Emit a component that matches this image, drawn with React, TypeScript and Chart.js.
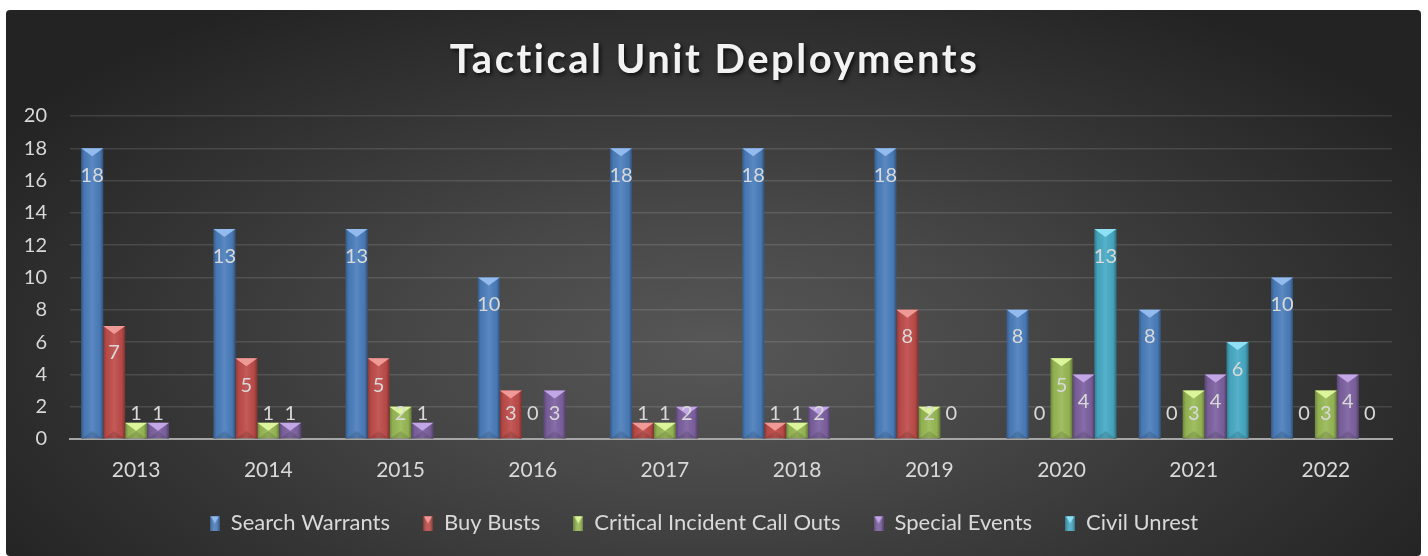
import React, { useEffect, useRef } from "react";
import { Chart, registerables } from "chart.js";

Chart.register(...registerables);

const titleText = "Tactical Unit Deployments";
const years = ["2013", "2014", "2015", "2016", "2017", "2018", "2019", "2020", "2021", "2022"];
const seriesNames = ["Search Warrants", "Buy Busts", "Critical Incident Call Outs", "Special Events", "Civil Unrest"];
const searchWarrants = [18, 13, 13, 10, 18, 18, 18, 8, 8, 10];
const buyBusts = [7, 5, 5, 3, 1, 1, 8, 0, 0, 0];
const criticalIncidents = [1, 1, 2, 0, 1, 1, 2, 5, 3, 3];
const specialEvents = [1, 1, 1, 3, 2, 2, 0, 4, 4, 4];
const civilUnrest = [null, null, null, null, null, null, null, 13, 6, 0];
const yTicks = [0, 2, 4, 6, 8, 10, 12, 14, 16, 18, 20];

const seriesColors = ["#4C7FBD", "#BF4D4A", "#99BA56", "#7E62A1", "#48ABC6"];
const seriesLight = ["#93BBEE", "#F09A98", "#DDF59A", "#C3A6E6", "#8FE0F4"];

const FONT = "Lato, 'Open Sans', sans-serif";

function makeMarker(color: string, light: string): HTMLCanvasElement {
  const c = document.createElement("canvas");
  c.width = 10;
  c.height = 15;
  const g = c.getContext("2d")!;
  g.fillStyle = color;
  g.fillRect(0, 0, 10, 15);
  const sh = g.createLinearGradient(0, 0, 10, 0);
  sh.addColorStop(0, "rgba(0,0,0,0.3)");
  sh.addColorStop(0.5, "rgba(255,255,255,0.08)");
  sh.addColorStop(1, "rgba(0,0,0,0.35)");
  g.fillStyle = sh;
  g.fillRect(0, 0, 10, 15);
  g.beginPath();
  g.moveTo(1, 1);
  g.lineTo(9, 1);
  g.lineTo(5, 8);
  g.closePath();
  g.fillStyle = light;
  g.fill();
  return c;
}

const decorPlugin = {
  id: "decor",
  afterDatasetsDraw(chart: any) {
    const ctx = chart.ctx;
    const yScale = chart.scales.y;
    const basePx = yScale.getPixelForValue(0);
    chart.data.datasets.forEach((ds: any, di: number) => {
      const meta = chart.getDatasetMeta(di);
      meta.data.forEach((bar: any, i: number) => {
        const v = ds.data[i];
        if (v === null || v === undefined) return;
        const { x, y, width } = bar.getProps(["x", "y", "width"], true);
        const left = x - width / 2;
        const right = x + width / 2;
        const h = basePx - y;
        ctx.save();
        if (h > 0.5) {
          const g = ctx.createLinearGradient(left, 0, right, 0);
          g.addColorStop(0, "rgba(0,0,0,0.28)");
          g.addColorStop(0.15, "rgba(0,0,0,0.05)");
          g.addColorStop(0.5, "rgba(255,255,255,0.08)");
          g.addColorStop(0.85, "rgba(0,0,0,0.05)");
          g.addColorStop(1, "rgba(0,0,0,0.35)");
          ctx.fillStyle = g;
          ctx.fillRect(left, y, width, h);
          const th = Math.min(8, h);
          ctx.beginPath();
          ctx.moveTo(left, y);
          ctx.lineTo(right, y);
          ctx.lineTo(x, y + th);
          ctx.closePath();
          ctx.fillStyle = seriesLight[di];
          ctx.fill();
          ctx.beginPath();
          ctx.moveTo(left, basePx);
          ctx.lineTo(right, basePx);
          ctx.lineTo(x, basePx - Math.min(8, h));
          ctx.closePath();
          ctx.fillStyle = "rgba(0,0,0,0.12)";
          ctx.fill();
        }
        const ly = Math.min(y + 27, basePx - 25);
        ctx.font = `20px ${FONT}`;
        ctx.fillStyle = "#D9D9D9";
        ctx.textAlign = "center";
        ctx.textBaseline = "middle";
        ctx.fillText(String(v), x, ly);
        ctx.restore();
      });
    });
  },
  afterDraw(chart: any) {
    const ctx = chart.ctx;
    ctx.save();
    ctx.font = `bold 40px ${FONT}`;
    (ctx as any).letterSpacing = "2.5px";
    ctx.textAlign = "center";
    ctx.textBaseline = "middle";
    ctx.shadowColor = "rgba(0,0,0,0.75)";
    ctx.shadowBlur = 4;
    ctx.shadowOffsetX = 2;
    ctx.shadowOffsetY = 2;
    ctx.fillStyle = "#F2F2F2";
    ctx.fillText(titleText, chart.width / 2 + 1, 50);
    ctx.restore();
  },
};

export default function App() {
  const canvasRef = useRef<HTMLCanvasElement | null>(null);

  useEffect(() => {
    if (!canvasRef.current) return;
    const allSeries = [searchWarrants, buyBusts, criticalIncidents, specialEvents, civilUnrest];
    const markers = seriesColors.map((c, i) => makeMarker(c, seriesLight[i]));
    const chart = new Chart(canvasRef.current, {
      type: "bar",
      data: {
        labels: years,
        datasets: allSeries.map((d, i) => ({
          label: seriesNames[i],
          data: d as any,
          backgroundColor: seriesColors[i],
          borderWidth: 0,
          categoryPercentage: 0.83,
          barPercentage: 1.0,
        })),
      },
      options: {
        animation: false,
        responsive: true,
        maintainAspectRatio: false,
        events: [],
        layout: { padding: { top: 106, left: 10, right: 29, bottom: 12 } },
        plugins: {
          title: { display: false },
          tooltip: { enabled: false },
          legend: {
            position: "bottom",
            labels: {
              color: "#D9D9D9",
              font: { family: FONT, size: 22 },
              usePointStyle: true,
              boxWidth: 10,
              boxHeight: 15,
              padding: 33,
              generateLabels: (ch: any) => {
                const items = Chart.defaults.plugins.legend.labels.generateLabels(ch);
                return items.map((it: any, idx: number) => ({ ...it, pointStyle: markers[idx] }));
              },
            },
          },
        },
        scales: {
          x: {
            grid: { display: false, drawTicks: false },
            border: { display: true, color: "#A6A6A6", width: 2 },
            ticks: { color: "#D9D9D9", font: { family: FONT, size: 21 }, padding: 19 },
            afterFit: (s: any) => {
              s.height = 40;
            },
          },
          y: {
            min: 0,
            max: 20,
            afterBuildTicks: (s: any) => {
              s.ticks = yTicks.map((v) => ({ value: v }));
            },
            grid: { color: "rgba(255,255,255,0.12)", lineWidth: 1.5, drawTicks: false },
            border: { display: false },
            ticks: { color: "#D9D9D9", font: { family: FONT, size: 20 }, padding: 23 },
            afterFit: (s: any) => {
              s.width = 54;
            },
          },
        },
      },
      plugins: [decorPlugin],
    });
    return () => chart.destroy();
  }, []);

  return (
    <div
      style={{
        position: "fixed",
        left: 6,
        top: 10,
        width: 1415,
        height: 546,
        borderRadius: 4,
        background:
          "radial-gradient(ellipse 60% 75% at 50% 62%, #575757 0%, #474747 35%, #333333 70%, #232323 100%)",
      }}
    >
      <canvas ref={canvasRef} />
    </div>
  );
}
